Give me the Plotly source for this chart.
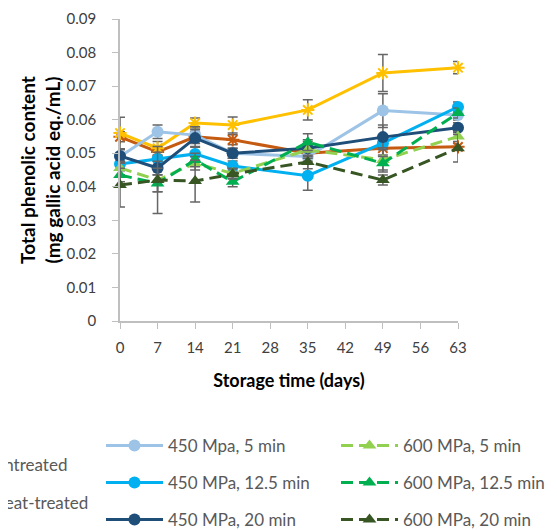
import plotly.graph_objects as go

days = [0, 7, 14, 21, 35, 49, 63]
x_ticks = [0, 7, 14, 21, 28, 35, 42, 49, 56, 63]
y_ticks = [0, 0.01, 0.02, 0.03, 0.04, 0.05, 0.06, 0.07, 0.08, 0.09]

untreated = [0.0549, 0.0504, 0.0549, 0.0540, 0.0500, 0.0515, 0.0519]
heat_treated = [0.0560, 0.0515, 0.0590, 0.0584, 0.0629, 0.0739, 0.0755]
mpa450_5 = [0.0490, 0.0564, 0.0554, 0.0500, 0.0490, 0.0627, 0.0614]
mpa450_125 = [0.0468, 0.0483, 0.0498, 0.0462, 0.0433, 0.0530, 0.0638]
mpa450_20 = [0.0492, 0.0456, 0.0545, 0.0500, 0.0515, 0.0548, 0.0576]
mpa600_5 = [0.0456, 0.0420, 0.0470, 0.0440, 0.0510, 0.0480, 0.0550]
mpa600_125 = [0.0435, 0.0410, 0.0480, 0.0415, 0.0533, 0.0470, 0.0620]
mpa600_20 = [0.0405, 0.0420, 0.0417, 0.0438, 0.0474, 0.0420, 0.0515]

err_untreated = [0.0015, 0.0015, 0.0015, 0.0015, 0.0015, 0.0020, 0.0010]
err_heat = [0.0047, 0.0020, 0.0015, 0.0024, 0.0030, 0.0055, 0.0018]
err_450_5 = [0.0020, 0.0020, 0.0025, 0.0015, 0.0020, 0.0050, 0.0015]
err_450_125 = [0.0020, 0.0020, 0.0020, 0.0015, 0.0043, 0.0020, 0.0015]
err_450_20 = [0.0020, 0.0020, 0.0025, 0.0015, 0.0025, 0.0036, 0.0015]
err_600_5 = [0.0020, 0.0035, 0.0020, 0.0015, 0.0025, 0.0036, 0.0015]
err_600_125 = [0.0020, 0.0025, 0.0020, 0.0015, 0.0025, 0.0020, 0.0015]
err_600_20 = [0.0065, 0.0100, 0.0062, 0.0015, 0.0020, 0.0015, 0.0041]

series = [
    ("Untreated", untreated, err_untreated, "#C55A11", "asterisk-open", "solid", "legend"),
    ("Heat-treated", heat_treated, err_heat, "#FFC000", "asterisk-open", "solid", "legend2"),
    ("450 Mpa, 5 min", mpa450_5, err_450_5, "#9DC3E6", "circle", "solid", "legend3"),
    ("450 MPa, 12.5 min", mpa450_125, err_450_125, "#00B0F0", "circle", "solid", "legend4"),
    ("450 MPa, 20 min", mpa450_20, err_450_20, "#1F4E79", "circle", "solid", "legend5"),
    ("600 MPa, 5 min", mpa600_5, err_600_5, "#92D050", "triangle-up", "12px,6px", "legend6"),
    ("600 MPa, 12.5 min", mpa600_125, err_600_125, "#00B050", "triangle-up", "12px,6px", "legend7"),
    ("600 MPa, 20 min", mpa600_20, err_600_20, "#375623", "triangle-up", "12px,6px", "legend8"),
]

fig = go.Figure()
for name, vals, err, color, sym, dash, leg in series:
    is_star = sym.startswith("asterisk")
    fig.add_trace(go.Scatter(
        x=days, y=vals, name=name, mode="lines+markers",
        line=dict(color=color, width=3, dash=dash),
        marker=dict(symbol=sym, size=12 if not is_star else 11, color=color,
                    line=dict(color=color, width=2 if is_star else 0)),
        error_y=dict(type="data", array=err, color="#666666", thickness=1.5, width=5),
        cliponaxis=False, legend=leg,
    ))

# page body adds an 8px offset; figure margins are set so the plot lands at
# screen x 120..458, y 19..321
OFF = 8
W, H = 557 + OFF, 530
L, T = 120 - OFF, 19 - OFF
pw, ph = 338, 302
R = W - L - pw
B = H - T - ph


def px2x(px):
    # screen px -> paper x
    return (px - OFF - L) / pw


def py2y(py):
    # screen px -> paper y
    return (T + ph - (py - OFF)) / ph


legend_font = dict(family="Lato, sans-serif", size=17, color="#595959")
legend_pos = {
    "legend": (-75, 465),
    "legend2": (-75, 503),
    "legend3": (101, 446),
    "legend4": (101, 483),
    "legend5": (101, 520),
    "legend6": (336, 446),
    "legend7": (336, 483),
    "legend8": (336, 520),
}
layout_legends = {}
for key, (lx, ly) in legend_pos.items():
    layout_legends[key] = dict(
        x=px2x(lx), y=py2y(ly), xanchor="left", yanchor="middle",
        xref="paper", yref="paper", bgcolor="rgba(0,0,0,0)", borderwidth=0,
        font=legend_font, itemwidth=57,
    )

fig.update_layout(
    width=W, height=H,
    margin=dict(l=L, r=R, t=T, b=B, autoexpand=False),
    plot_bgcolor="white", paper_bgcolor="white",
    font=dict(family="Lato, sans-serif", size=15, color="#404040"),
    showlegend=True,
    **layout_legends,
)
fig.update_xaxes(
    range=[0, 63], tickmode="array", tickvals=x_ticks,
    ticktext=[str(v) for v in x_ticks],
    showline=True, linecolor="#BFBFBF", linewidth=1.5,
    ticks="outside", ticklen=6, tickcolor="#BFBFBF", showgrid=False, zeroline=False,
    tickfont=dict(size=15, color="#404040"), ticklabelstandoff=6,
    title=dict(text="<b>Storage time (days)</b>", font=dict(size=18, color="#000000"), standoff=20),
)
fig.update_yaxes(
    range=[0, 0.09], tickmode="array", tickvals=y_ticks,
    ticktext=["0" if v == 0 else f"{v:.2f}" for v in y_ticks],
    showline=True, linecolor="#BFBFBF", linewidth=1.5,
    ticks="outside", ticklen=6, tickcolor="#BFBFBF", showgrid=False, zeroline=False,
    tickfont=dict(size=15, color="#404040"), ticklabelstandoff=13,
    title=dict(text="<b>Total phenolic content<br>(mg gallic acid eq./mL)</b>",
               font=dict(size=19, color="#000000"), standoff=1),
)

fig.write_html("out.html")
